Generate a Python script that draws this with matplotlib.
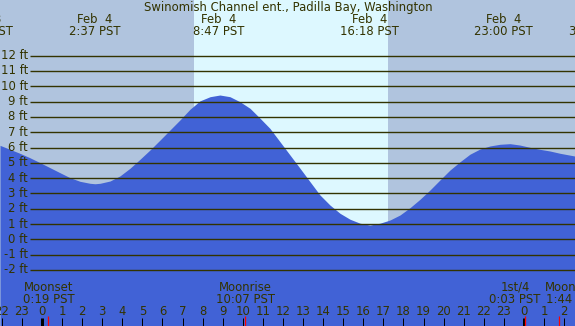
import numpy as np
import matplotlib
matplotlib.use("Agg")
import matplotlib.pyplot as plt

# tide heights (ft), hours from midnight Feb 4 (PST)
tide_hours = [-2.09, -1.59, -1.10, -0.60, -0.10, 0.40, 0.90, 1.39, 1.89, 2.39,
              2.64, 2.89, 3.39, 3.88, 4.38, 4.88, 5.38, 5.88, 6.37, 6.87,
              7.37, 7.87, 8.37, 8.86, 9.36, 9.86, 10.36, 10.86, 11.35, 11.85,
              12.35, 12.85, 13.35, 13.84, 14.34, 14.84, 15.34, 15.84, 16.33, 16.83,
              17.33, 17.83, 18.33, 18.82, 19.32, 19.82, 20.32, 20.82, 21.31, 21.81,
              22.31, 22.81, 23.31, 23.80, 24.30, 24.80, 25.30, 25.80, 26.54]
tide_ft = [6.14, 5.88, 5.62, 5.33, 5.01, 4.68, 4.35, 4.03, 3.79, 3.66,
           3.63, 3.66, 3.81, 4.14, 4.64, 5.23, 5.84, 6.49, 7.14, 7.80,
           8.50, 9.05, 9.32, 9.43, 9.32, 8.99, 8.56, 7.91, 7.25, 6.38,
           5.51, 4.64, 3.76, 2.90, 2.24, 1.70, 1.31, 1.05, 0.93, 1.05,
           1.26, 1.59, 2.07, 2.61, 3.22, 3.88, 4.53, 5.07, 5.56, 5.90,
           6.10, 6.21, 6.25, 6.16, 6.01, 5.88, 5.77, 5.62, 5.44]

# extremes labelled along the top
ext_hours = [-2.9, 2.62, 8.78, 16.30, 23.00, 27.5]
ext_dates = ["Feb  3", "Feb  4", "Feb  4", "Feb  4", "Feb  4", "Feb  5"]
ext_times = ["21:05 PST", "2:37 PST", "8:47 PST", "16:18 PST", "23:00 PST", "3:30 PST"]

# moon events along the bottom
moon_hours = [0.32, 10.12, 24.05, 25.73]
moon_names = ["Moonset", "Moonrise", "1st/4", "Moonrise"]
moon_times = ["0:19 PST", "10:07 PST", "0:03 PST", "1:44 PST"]

sunrise, sunset = 7.57, 17.23
levels = list(range(-2, 13))

title = "Swinomish Channel ent., Padilla Bay, Washington"

night = "#b0c4de"
day = "#ddf8ff"
water = "#4162d6"
ink = "#333300"

W, H = 575, 326
X0, PXH = 42.0, 20.08      # pixel of hour 0, pixels per hour
Y0, PXF = 239.3, 15.3      # pixel of 0 ft, pixels per foot
FS = 8.4


def fx(px):
    return (px - X0) / PXH


def fy(py):
    return (Y0 - py) / PXF


fig = plt.figure(figsize=(W / 100, H / 100), dpi=100)
fig.patch.set_facecolor(night)
ax = fig.add_axes([0, 0, 1, 1])
ax.set_facecolor(night)
ax.set_xlim(fx(0), fx(W))
ax.set_ylim(fy(H), fy(0))
ax.axis("off")

ax.axvspan(sunrise, sunset, color=day, lw=0, zorder=1)
ax.fill_between(tide_hours, tide_ft, fy(H), color=water, lw=0, zorder=2)

for lv in levels:
    ax.plot([fx(30), fx(W)], [lv, lv], color=ink, lw=1.0, zorder=3,
            solid_capstyle="butt")
    ax.text(fx(28), lv, f"{lv} ft", ha="right", va="center", fontsize=FS,
            color=ink, zorder=4)

ax.text(fx(288), fy(7.5), title, ha="center", va="center", fontsize=FS, color=ink)
for h, d, t in zip(ext_hours, ext_dates, ext_times):
    ax.text(h, fy(19.5), d, ha="center", va="center", fontsize=FS, color=ink)
    ax.text(h, fy(31.5), t, ha="center", va="center", fontsize=FS, color=ink)

# crowded labels at the right get nudged apart (pixels)
nudge = [0, 0, -10, 13]
for h, n, t, dx in zip(moon_hours, moon_names, moon_times, nudge):
    hx = h + dx / PXH
    ax.text(hx, fy(287.5), n, ha="center", va="center", fontsize=FS, color=ink)
    ax.text(hx, fy(299.5), t, ha="center", va="center", fontsize=FS, color=ink)

for hr in range(-2, 27):
    ax.text(hr, fy(311.5), str(hr % 24), ha="center", va="center",
            fontsize=FS, color=ink)
    wide = 3.0 if hr % 24 == 0 else 1.0
    ax.plot([hr, hr], [fy(318), fy(H)], color="black", lw=wide * 0.72,
            solid_capstyle="butt", zorder=5)

for h in moon_hours:
    ax.plot([h, h], [fy(316), fy(H)], color="red", lw=0.9,
            solid_capstyle="butt", zorder=6)

fig.savefig("out.png", dpi=100, facecolor=night)
